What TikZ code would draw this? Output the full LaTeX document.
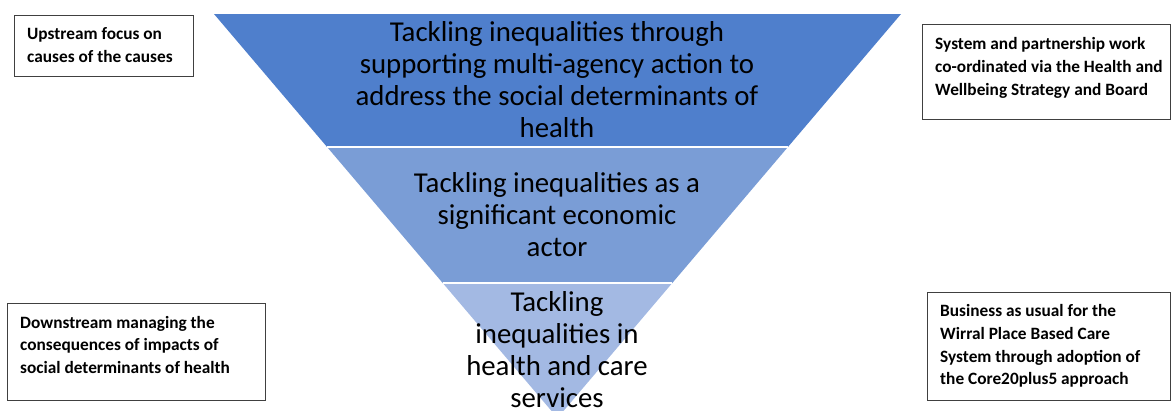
\documentclass[tikz,border=0pt]{standalone}
\usepackage{fontspec}
\setmainfont{Carlito}
\usetikzlibrary{calc}

\definecolor{tierone}{HTML}{4F7FCC}
\definecolor{tiertwo}{HTML}{7A9DD6}
\definecolor{tierthree}{HTML}{A3B9E3}

\tikzset{
  notebox/.style={draw=black!75, line width=0.8pt, fill=white, anchor=north west, inner sep=0pt},
  notetext/.style={anchor=west, align=left, inner sep=0pt, font=\bfseries\fontsize{17.3}{22.8}\selectfont},
  tiertext/.style={align=center, inner sep=0pt, font=\fontsize{28.8}{32}\selectfont},
  tier/.style={draw=white, line width=1.6pt, line join=miter}
}

\begin{document}
\begin{tikzpicture}[x=1pt,y=-1pt]
\useasboundingbox (0,0) rectangle (1172,410);

% the inverted triangle
\coordinate (topL) at (214,14);
\coordinate (topR) at (901,14);
\coordinate (apex) at (557.5,418);
\coordinate (midL) at ($(topL)!0.3292!(apex)$);
\coordinate (midR) at ($(topR)!0.3292!(apex)$);
\coordinate (lowL) at ($(topL)!0.6658!(apex)$);
\coordinate (lowR) at ($(topR)!0.6658!(apex)$);

\fill[tierthree] (lowL) -- (lowR) -- (apex) -- cycle;
\fill[tiertwo] (midL) -- (midR) -- (lowR) -- (lowL) -- cycle;
\fill[tierone] (topL) -- (topR) -- (midR) -- (midL) -- cycle;
\draw[tier] (midL) -- (midR);
\draw[tier] (lowL) -- (lowR);

\node[tiertext] (social) at (557,80) {Tackling inequalities through\\supporting multi-agency action to\\address the social determinants of\\health};
\node[tiertext] (economic) at (557,215) {Tackling inequalities as a\\significant economic\\actor};
\node[tiertext] (services) at (557,350) {Tackling\\inequalities in\\health and care\\services};

% side notes
\node[notebox, minimum width=179pt, minimum height=61pt] (upstream) at (14,15) {};
\node[notetext] (upstreamtext) at ([xshift=13pt,yshift=1pt]upstream.west) {Upstream focus on\\causes of the causes};

\node[notebox, minimum width=248pt, minimum height=95pt] (system) at (922,24) {};
\node[notetext] (systemtext) at ([xshift=13pt,yshift=4pt]system.west) {System and partnership work\\co-ordinated via the Health and\\Wellbeing Strategy and Board};

\node[notebox, minimum width=258pt, minimum height=97pt] (downstream) at (7,303) {};
\node[notetext] (downstreamtext) at ([xshift=13pt,yshift=7pt]downstream.west) {Downstream managing the\\consequences of impacts of\\social determinants of health};

\node[notebox, minimum width=243pt, minimum height=108pt] (business) at (927,292) {};
\node[notetext] (businesstext) at ([xshift=13pt,yshift=0.5pt]business.west) {Business as usual for the\\Wirral Place Based Care\\System through adoption of\\the Core20plus5 approach};
\end{tikzpicture}
\end{document}
